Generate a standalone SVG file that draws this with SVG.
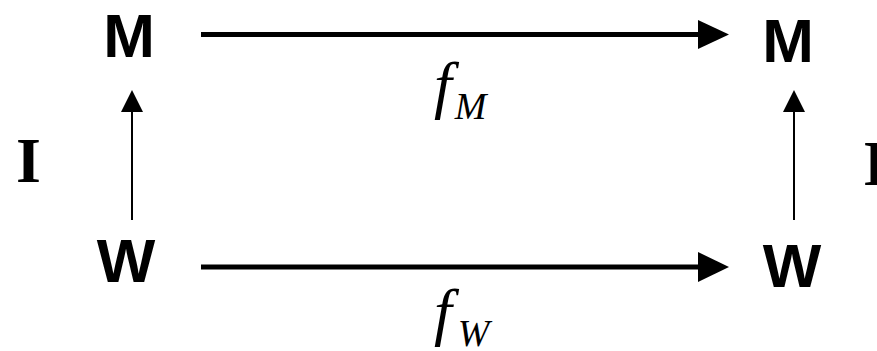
<svg xmlns="http://www.w3.org/2000/svg" width="877" height="351" viewBox="0 0 877 351">
<style>
.n{font-family:"Liberation Sans",Arial,sans-serif;font-weight:bold;font-size:62px;fill:#000}
.i{font-family:"Liberation Serif","Times New Roman",serif;font-weight:bold;font-size:64px;fill:#000}
.f{font-family:"Liberation Serif","Times New Roman",serif;font-style:italic;font-size:64px;fill:#000}
.s{font-size:38px}
.h{stroke:#000;stroke-width:5;fill:none}
.v{stroke:#000;stroke-width:2;fill:none}
</style>
<rect width="877" height="351" fill="#fff"/>
<g id="M1"><text class="n" x="129" y="57" text-anchor="middle">M</text></g>
<g id="M2"><text class="n" x="788" y="62" text-anchor="middle">M</text></g>
<g id="W1"><text class="n" x="126" y="282" text-anchor="middle">W</text></g>
<g id="W2"><text class="n" x="792" y="287" text-anchor="middle">W</text></g>
<g id="connectors">
<line class="h" x1="201" y1="34.5" x2="700" y2="34.5"/>
<polygon points="698,20 729,34.5 698,49"/>
<line class="h" x1="201" y1="267" x2="700" y2="267"/>
<polygon points="698,252 729,267 698,282"/>
<line class="v" x1="132" y1="220" x2="132" y2="110"/>
<polygon points="121,112 132,90 143,112"/>
<line class="v" x1="794" y1="220" x2="794" y2="110"/>
<polygon points="783,112 794,90 805,112"/>
</g>
<g id="labels">
<text class="i" x="16" y="182">I</text>
<text class="i" x="863" y="185">I</text>
<text class="f" x="434" y="106">f<tspan class="s" dx="3" dy="13">M</tspan></text>
<text class="f" x="434" y="333">f<tspan class="s" dx="6" dy="13">W</tspan></text>
</g>
</svg>
